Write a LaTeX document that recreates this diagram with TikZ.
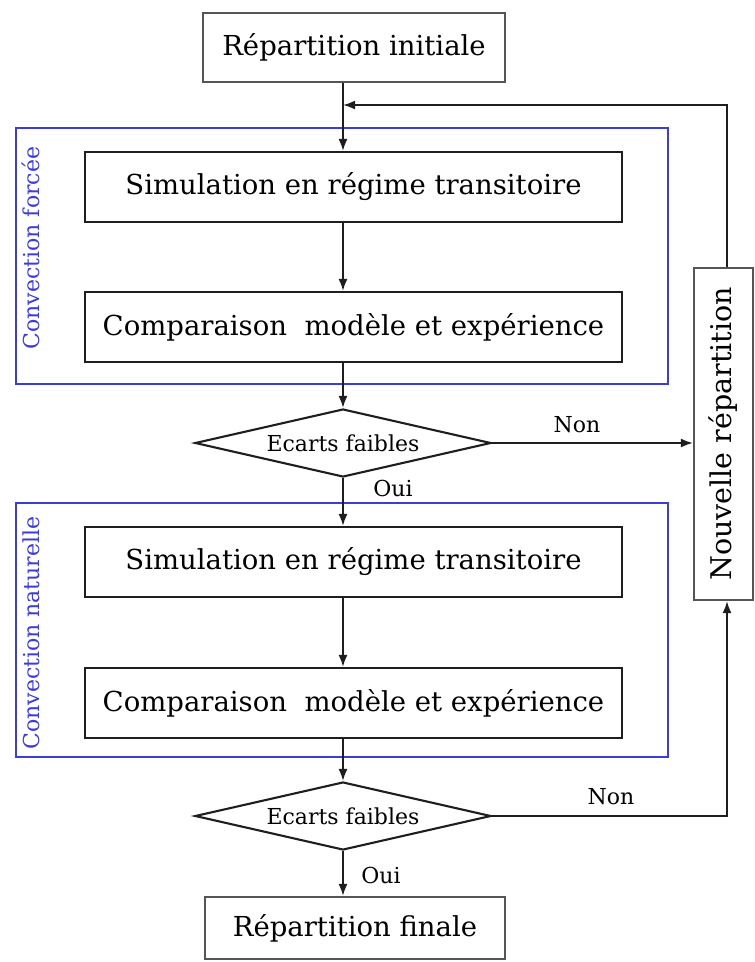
\documentclass[tikz,border=0pt]{standalone}
\usepackage{fontspec}
\setmainfont{DejaVu Serif}
\usetikzlibrary{shapes.geometric,arrows.meta}
\definecolor{bluebox}{RGB}{60,60,215}
\definecolor{lin}{RGB}{30,30,30}
\definecolor{gbox}{RGB}{85,85,85}
\begin{document}
\begin{tikzpicture}[x=1pt,y=-1pt,
  box/.style={draw=lin, line width=2.1pt, inner sep=0pt, font=\fontsize{27.5}{30}\selectfont},
  gbox/.style={draw=gbox, line width=2.1pt, inner sep=0pt, font=\fontsize{27.5}{30}\selectfont},
  dia/.style={diamond, draw=lin, line width=2.1pt, inner sep=0pt, aspect=4.35, minimum width=296pt, minimum height=68pt, font=\fontsize{22}{24}\selectfont},
  frame/.style={draw=bluebox, line width=2.4pt},
  flabel/.style={rotate=90, text=bluebox, font=\fontsize{22}{24}\selectfont, inner sep=0pt},
  lbl/.style={font=\fontsize{22}{24}\selectfont, inner sep=0pt},
  arr/.style={draw=lin, line width=1.9pt, -{Latex[length=12pt,width=9pt]}},
  ln/.style={draw=lin, line width=1.9pt}]
\useasboundingbox (0,0) rectangle (755,962);
% blue frames
\draw[frame] (16,128) rectangle (668,384);
\draw[frame] (16,503) rectangle (668,757);
\node[flabel] (cf) at (31,248) {Convection forcée};
\node[flabel] (cn) at (31,633) {Convection naturelle};
% nodes
\node[gbox, minimum width=302pt, minimum height=69pt] (init) at (354,47.5) {Répartition initiale};
\node[box, minimum width=537pt, minimum height=70pt] (sim1) at (353.5,187) {Simulation en régime transitoire};
\node[box, minimum width=537pt, minimum height=70pt] (comp1) at (353.5,327) {Comparaison\ \ modèle et expérience};
\node[dia] (d1) at (343,443) {Ecarts faibles};
\node[box, minimum width=537pt, minimum height=70pt] (sim2) at (353.5,562) {Simulation en régime transitoire};
\node[box, minimum width=537pt, minimum height=70pt] (comp2) at (353.5,703) {Comparaison\ \ modèle et expérience};
\node[dia] (d2) at (343,816) {Ecarts faibles};
\node[gbox, minimum width=300pt, minimum height=62pt] (fin) at (355,928) {Répartition finale};
\node[gbox, minimum width=59pt, minimum height=332pt] (nouv) at (723.5,434) {};
\node[rotate=90, font=\fontsize{28.5}{30}\selectfont, inner sep=0pt] (nouvt) at (nouv.center) {Nouvelle répartition};
% coordinates
\coordinate (merge) at (343,105);
\coordinate (rt) at (727,105);
\coordinate (rb) at (727,816);
% connectors
\draw[ln] (init.south -| merge) -- (merge);
\draw[arr] (merge) -- (sim1.north -| merge);
\draw[arr] (sim1.south -| merge) -- (comp1.north -| merge);
\draw[arr] (comp1.south -| merge) -- (d1.north);
\draw[arr] (d1.south) -- (sim2.north -| d1.south);
\draw[arr] (sim2.south -| merge) -- (comp2.north -| merge);
\draw[arr] (comp2.south -| merge) -- (d2.north);
\draw[arr] (d2.south) -- (fin.north -| d2.south);
\draw[arr] (d1.east) -- (nouv.west |- d1.east);
\draw[arr] (d2.east) -- (rb) -- (nouv.south -| rb);
\draw[arr] (nouv.north -| rt) -- (rt) -- (merge);
% labels
\node[lbl] (non1) at (577,425) {Non};
\node[lbl] (oui1) at (393,488) {Oui};
\node[lbl] (non2) at (611,797) {Non};
\node[lbl] (oui2) at (381,875) {Oui};
\end{tikzpicture}
\end{document}
